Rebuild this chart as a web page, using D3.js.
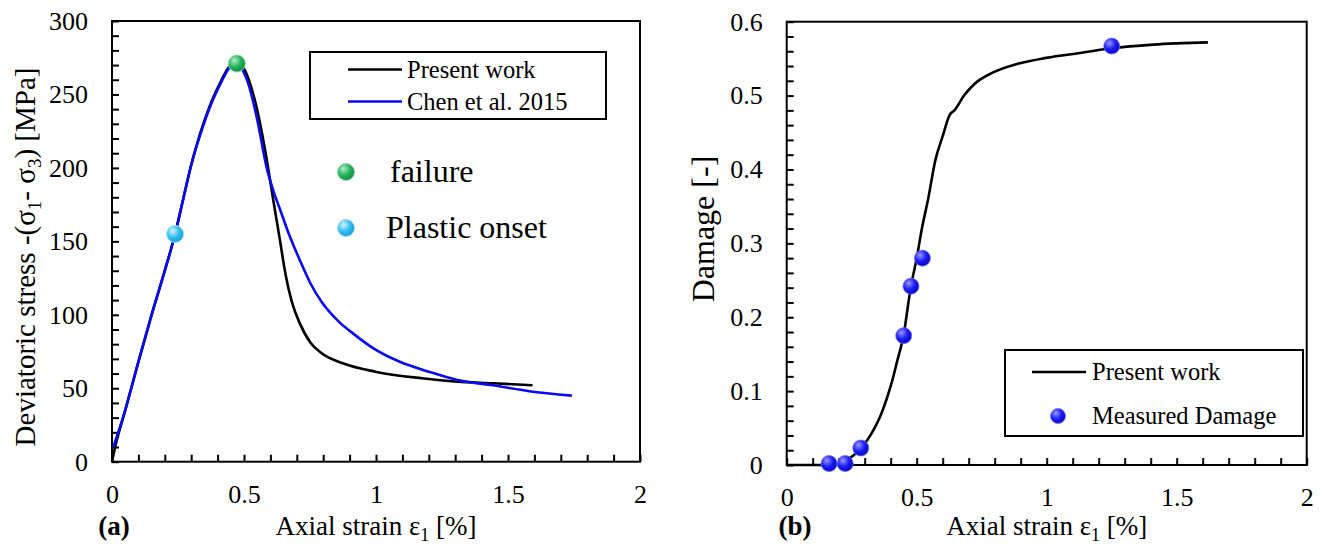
<!DOCTYPE html>
<html>
<head>
<meta charset="utf-8">
<script src="https://cdn.jsdelivr.net/npm/d3@7/dist/d3.min.js"></script>
<style>
  html, body { margin: 0; padding: 0; background: #fff; }
  svg { display: block; }
  svg text { font-family: "Liberation Serif", "Times New Roman", serif; fill: #000; }
</style>
</head>
<body>
<svg id="fig" width="1323" height="546"></svg>
<script>
// ---- Panel (a): stress–strain curves ----
const presentStrain = [0, 0.012, 0.05, 0.1, 0.15, 0.2, 0.239, 0.27, 0.3, 0.335, 0.37, 0.41, 0.44, 0.465, 0.49, 0.52, 0.548, 0.58, 0.611, 0.635, 0.658, 0.681, 0.712, 0.752, 0.793, 0.874, 0.997, 1.173, 1.308, 1.444, 1.593];
const presentStress = [0, 10, 35, 68, 100, 130, 155, 179, 202, 224, 242, 258, 268, 272, 270, 259, 241, 212, 178, 152, 127, 109, 94, 81, 74, 67, 61.3, 56.8, 54.5, 53.4, 52];

const chenStrain = [0.005, 0.05, 0.1, 0.15, 0.2, 0.239, 0.27, 0.3, 0.335, 0.37, 0.41, 0.44, 0.465, 0.49, 0.515, 0.55, 0.586, 0.61, 0.636, 0.67, 0.712, 0.75, 0.793, 0.861, 0.915, 0.983, 1.09, 1.2, 1.308, 1.444, 1.58, 1.742];
const chenStress = [10, 35, 68, 100, 130, 155, 179, 202, 223, 241, 257, 267, 271.5, 268, 258, 233, 200, 185, 172, 155, 137, 122, 109, 95, 87, 78, 68, 61.3, 55.6, 52, 48, 45];

const eventLabels = ["failure", "Plastic onset"];
const eventStrain = [0.473, 0.239];
const eventStress = [271, 155];

const strainTicks = [0, 0.5, 1, 1.5, 2];
const stressTicks = [0, 50, 100, 150, 200, 250, 300];

// ---- Panel (b): damage evolution ----
const damageStrain = [0, 0.15, 0.2, 0.23, 0.26, 0.284, 0.31, 0.333, 0.36, 0.385, 0.405, 0.423, 0.449, 0.477, 0.5, 0.52, 0.544, 0.572, 0.599, 0.627, 0.645, 0.682, 0.723, 0.792, 0.888, 0.998, 1.136, 1.25, 1.41, 1.62];
const damageValue = [0, 0, 0.002, 0.007, 0.014, 0.023, 0.034, 0.047, 0.066, 0.09, 0.113, 0.138, 0.175, 0.24, 0.28, 0.32, 0.36, 0.413, 0.444, 0.474, 0.48, 0.5, 0.516, 0.531, 0.543, 0.551, 0.558, 0.564, 0.569, 0.572];

const measuredStrain = [0.163, 0.225, 0.285, 0.45, 0.478, 0.522, 1.25];
const measuredDamage = [0.002, 0.002, 0.023, 0.175, 0.242, 0.28, 0.567];

const damageTicks = [0, 0.1, 0.2, 0.3, 0.4, 0.5, 0.6];

const SERIF = '"Liberation Serif", "Times New Roman", serif';
const svg = d3.select("#fig");
const defs = svg.append("defs");

// shaded sphere fills for the point markers
function sphere(id, light, base, dark) {
  const g = defs.append("radialGradient").attr("id", id)
    .attr("cx", "38%").attr("cy", "35%").attr("r", "70%").attr("fx", "35%").attr("fy", "30%");
  g.append("stop").attr("offset", "0%").attr("stop-color", light);
  g.append("stop").attr("offset", "55%").attr("stop-color", base);
  g.append("stop").attr("offset", "100%").attr("stop-color", dark);
}
sphere("gGreen", "#b8ecc8", "#22b25a", "#11863d");
sphere("gCyan", "#d6f3ff", "#33bdf2", "#1597d2");
sphere("gBlue", "#9a9aff", "#1a1af5", "#0808b8");

const TICK = 7;

function drawAxes(g, x, y, xTickMinor, yTickMinor) {
  const [x0, x1] = x.range();
  const [y0, y1] = y.range();
  const fmt = d3.format("~g");
  // minor + major ticks, labelled only on majors
  const xAxis = d3.axisBottom(x).tickValues(xTickMinor.vals)
    .tickSize(-TICK).tickPadding(23)
    .tickFormat(d => xTickMinor.labels.has(d) ? fmt(d) : "");
  const yAxis = d3.axisLeft(y).tickValues(yTickMinor.vals)
    .tickSize(-TICK).tickPadding(24)
    .tickFormat(d => yTickMinor.labels.has(d) ? fmt(d) : "");
  const gx = g.append("g").attr("transform", `translate(0,${y0})`).call(xAxis);
  const gy = g.append("g").attr("transform", `translate(${x0},0)`).call(yAxis);
  [gx, gy].forEach(a => {
    a.attr("font-family", SERIF).attr("font-size", 26);
    a.select(".domain").remove();
    a.selectAll(".tick line").attr("stroke", "#000").attr("stroke-width", 2);
    a.selectAll(".tick text").attr("fill", "#000").attr("font-family", SERIF)
      .style("font-family", SERIF).style("font-size", "26px");
  });
  // plot frame
  g.append("rect").attr("x", x0).attr("y", y1).attr("width", x1 - x0).attr("height", y0 - y1)
    .attr("fill", "none").attr("stroke", "#000").attr("stroke-width", 2);
}

function minorSet(step, max, majors) {
  const n = Math.round(max / step);
  return { vals: d3.range(0, n + 1).map(i => +(i * step).toFixed(3)), labels: new Set(majors) };
}

// ================= Panel (a) =================
const gA = svg.append("g");
const xA = d3.scaleLinear().domain([0, 2]).range([112, 640]);
const yA = d3.scaleLinear().domain([0, 300]).range([461.7, 21]);

drawAxes(gA, xA, yA, minorSet(0.1, 2, strainTicks), minorSet(10, 300, stressTicks));

const lineA = (xs, ys) => d3.line().x((d, i) => xA(xs[i])).y((d, i) => yA(ys[i])).curve(d3.curveMonotoneX)(xs);

gA.append("path").attr("d", lineA(presentStrain, presentStress))
  .attr("fill", "none").attr("stroke", "#000").attr("stroke-width", 2.6);
gA.append("path").attr("d", lineA(chenStrain, chenStress))
  .attr("fill", "none").attr("stroke", "#0a0af2").attr("stroke-width", 2.6);

const eventFill = ["url(#gGreen)", "url(#gCyan)"];
const eventStroke = ["#8fd9a8", "#9fe0fb"];
gA.selectAll("circle.event").data(eventStrain).join("circle").attr("class", "event")
  .attr("cx", (d, i) => xA(eventStrain[i])).attr("cy", (d, i) => yA(eventStress[i])).attr("r", 8.5)
  .attr("fill", (d, i) => eventFill[i]).attr("stroke", (d, i) => eventStroke[i]).attr("stroke-width", 1);

// legend of panel (a)
const legA = gA.append("g");
legA.append("rect").attr("x", 310).attr("y", 52).attr("width", 296).attr("height", 67)
  .attr("fill", "#fff").attr("stroke", "#000").attr("stroke-width", 2);
const seriesA = [{ name: "Present work", color: "#000", y: 69.5 }, { name: "Chen et al. 2015", color: "#0a0af2", y: 101.5 }];
seriesA.forEach(s => {
  legA.append("line").attr("x1", 348).attr("x2", 402).attr("y1", s.y).attr("y2", s.y)
    .attr("stroke", s.color).attr("stroke-width", 2.6);
  legA.append("text").attr("x", 407).attr("y", s.y + 8).attr("font-size", 24.5).text(s.name);
});
const eventKeyY = [172, 228];
const eventTextX = [390, 386];
eventLabels.forEach((lab, i) => {
  legA.append("circle").attr("cx", 346).attr("cy", eventKeyY[i]).attr("r", 8.5)
    .attr("fill", eventFill[i]).attr("stroke", eventStroke[i]).attr("stroke-width", 1);
  legA.append("text").attr("x", eventTextX[i]).attr("y", eventKeyY[i] + 10).attr("font-size", 32).text(lab);
});

// axis titles of panel (a)
const yTitleA = gA.append("text").attr("transform", "translate(35,257) rotate(-90)")
  .attr("text-anchor", "middle").attr("font-size", 29);
yTitleA.append("tspan").text("Deviatoric stress -(σ");
yTitleA.append("tspan").attr("font-size", 19).attr("dy", 6).text("1");
yTitleA.append("tspan").attr("dy", -6).text("- σ");
yTitleA.append("tspan").attr("font-size", 19).attr("dy", 6).text("3");
yTitleA.append("tspan").attr("dy", -6).text(") [MPa]");

function xTitle(g, cx) {
  const t = g.append("text").attr("x", cx).attr("y", 535).attr("text-anchor", "middle").attr("font-size", 27);
  t.append("tspan").text("Axial strain ε");
  t.append("tspan").attr("font-size", 18).attr("dy", 6).text("1");
  t.append("tspan").attr("dy", -6).text(" [%]");
}
xTitle(gA, 376);
gA.append("text").attr("x", 114).attr("y", 535).attr("text-anchor", "middle")
  .attr("font-size", 27).attr("font-weight", "bold").text("(a)");

// ================= Panel (b) =================
const gB = svg.append("g");
const xB = d3.scaleLinear().domain([0, 2]).range([786.7, 1306.7]);
const yB = d3.scaleLinear().domain([0, 0.6]).range([465, 21.7]);

drawAxes(gB, xB, yB, minorSet(0.1, 2, strainTicks), minorSet(0.02, 0.6, damageTicks));

gB.append("path")
  .attr("d", d3.line().x((d, i) => xB(damageStrain[i])).y((d, i) => yB(damageValue[i])).curve(d3.curveMonotoneX)(damageStrain))
  .attr("fill", "none").attr("stroke", "#000").attr("stroke-width", 2.6);

gB.selectAll("circle.meas").data(measuredStrain).join("circle").attr("class", "meas")
  .attr("cx", (d, i) => xB(measuredStrain[i])).attr("cy", (d, i) => yB(measuredDamage[i])).attr("r", 8)
  .attr("fill", "url(#gBlue)").attr("stroke", "#6b6bff").attr("stroke-width", 0.8);

const legB = gB.append("g");
legB.append("rect").attr("x", 1005).attr("y", 350).attr("width", 298).attr("height", 86)
  .attr("fill", "#fff").attr("stroke", "#000").attr("stroke-width", 2);
legB.append("line").attr("x1", 1032).attr("x2", 1086).attr("y1", 372).attr("y2", 372)
  .attr("stroke", "#000").attr("stroke-width", 2.6);
legB.append("text").attr("x", 1092).attr("y", 380).attr("font-size", 24.5).text("Present work");
legB.append("circle").attr("cx", 1058).attr("cy", 416).attr("r", 7.5)
  .attr("fill", "url(#gBlue)").attr("stroke", "#6b6bff").attr("stroke-width", 0.8);
legB.append("text").attr("x", 1092).attr("y", 424).attr("font-size", 24.5).text("Measured Damage");

gB.append("text").attr("transform", "translate(714,229) rotate(-90)")
  .attr("text-anchor", "middle").attr("font-size", 32).text("Damage [-]");

xTitle(gB, 1046.7);
gB.append("text").attr("x", 795).attr("y", 535).attr("text-anchor", "middle")
  .attr("font-size", 27).attr("font-weight", "bold").text("(b)");
</script>
</body>
</html>
